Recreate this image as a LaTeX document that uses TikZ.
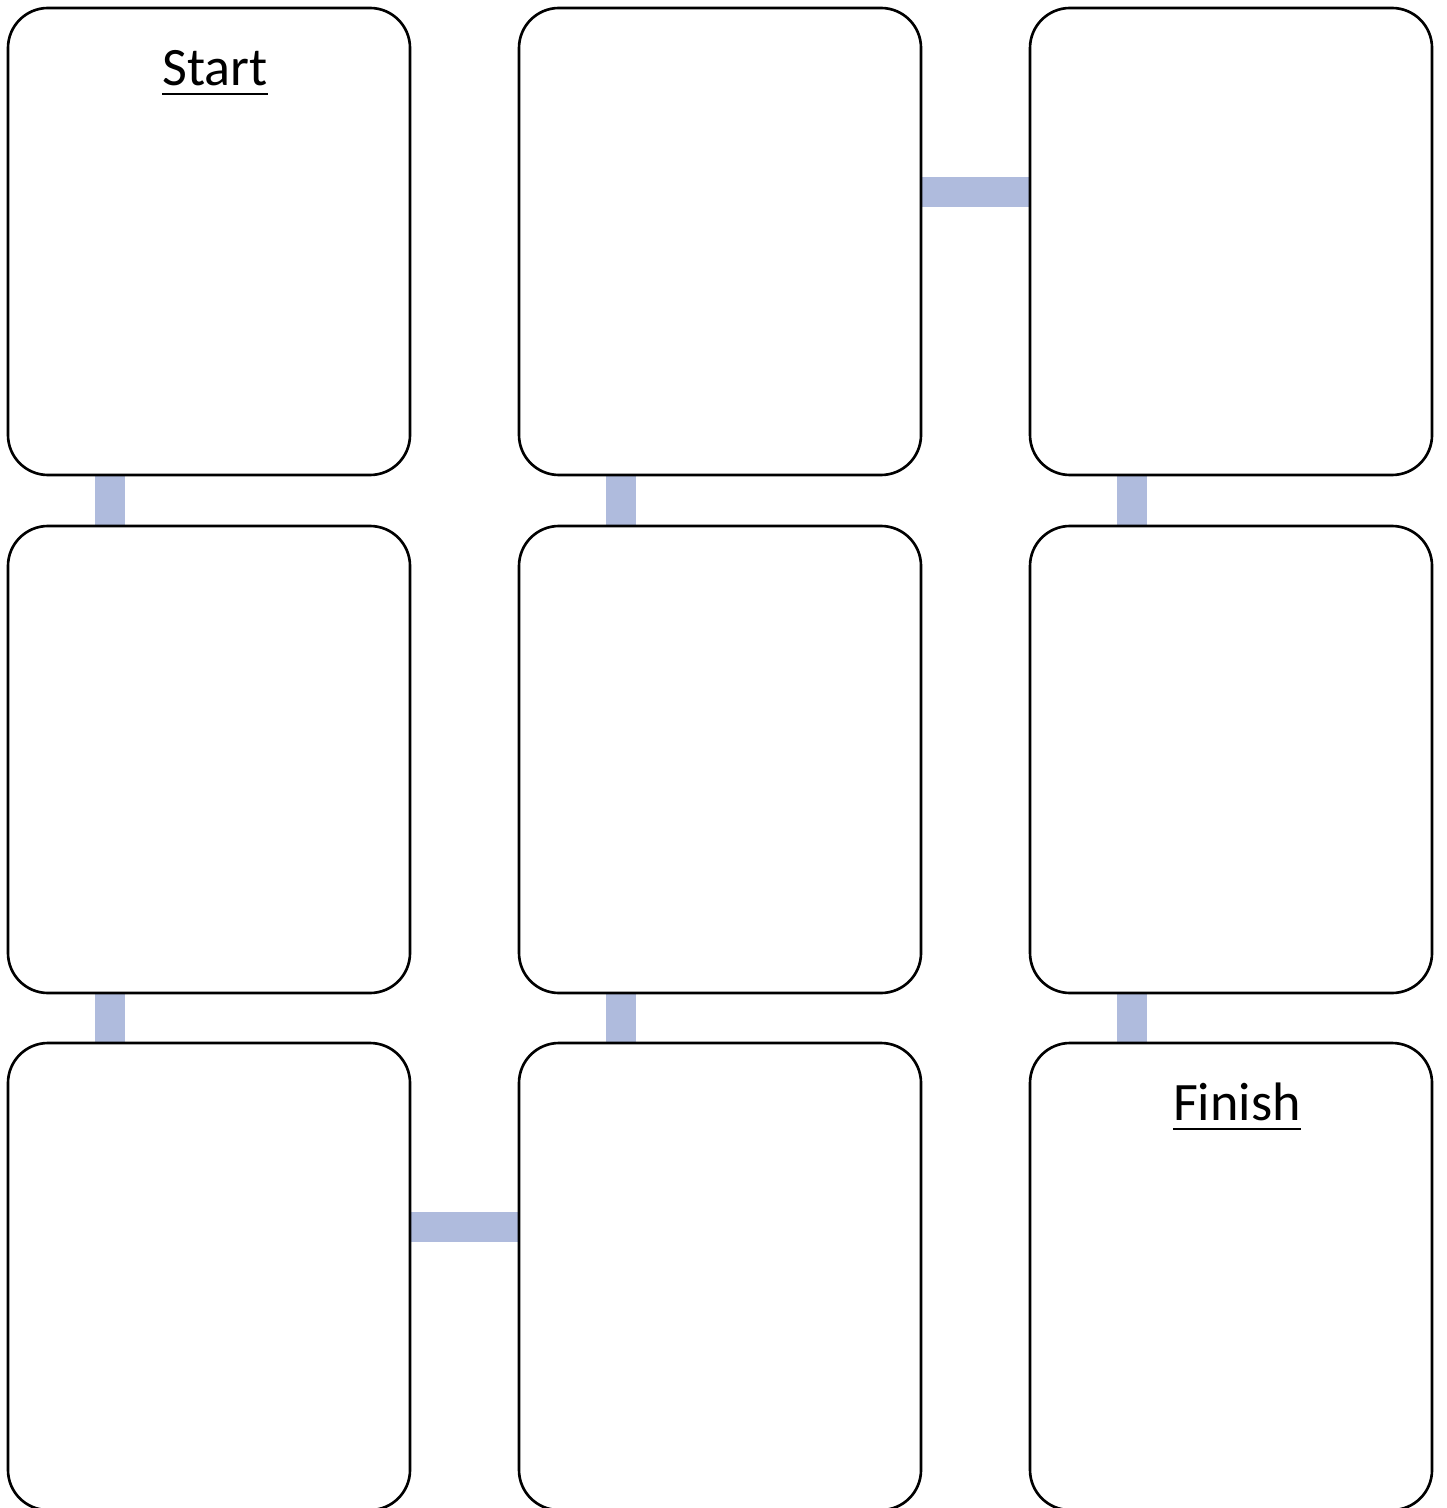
\documentclass[tikz,border=0pt]{standalone}
\usepackage{fontspec}
\setmainfont{Carlito}
\usepackage{xcolor}
\usetikzlibrary{positioning,backgrounds}
\definecolor{linkblue}{RGB}{175,187,221}
\newcommand{\ulbar}[1]{\vtop{\hbox{#1}\kern1.9pt\hrule height0.75pt}}
\tikzset{
  room/.style={draw=black, line width=0.75pt, fill=white, rounded corners=0.4cm,
               minimum width=4.02cm, minimum height=4.67cm, inner sep=0pt},
  link/.style={draw=linkblue, line width=0.3cm},
  heading/.style={anchor=base, inner sep=0pt, font=\fontsize{15.4}{18}\selectfont}
}
\begin{document}
\begin{tikzpicture}
    \useasboundingbox (0,0) rectangle (14.46,-15.08);

    % grid of rooms
    \foreach \c/\x in {1/2.09, 2/7.20, 3/12.31}
        \foreach \r/\y in {1/-2.415, 2/-7.595, 3/-12.765}
            \node[room] (b\r\c) at (\x,\y) {};

    \node[heading] (start) at ([xshift=0.06cm, yshift=-0.79cm]b11.north) {\ulbar{Start}};
    \node[heading] (finish) at ([xshift=0.06cm, yshift=-0.79cm]b33.north) {\ulbar{Finish}};

    % corridors
    \begin{scope}[on background layer]
        \draw[link] ([xshift=1.03cm]b11.south west) -- ([xshift=1.03cm]b21.north west);
        \draw[link] ([xshift=1.03cm]b21.south west) -- ([xshift=1.03cm]b31.north west);
        \draw[link] ([yshift=-1.85cm]b31.north east) -- ([yshift=-1.85cm]b32.north west);
        \draw[link] ([xshift=1.03cm]b32.north west) -- ([xshift=1.03cm]b22.south west);
        \draw[link] ([xshift=1.03cm]b22.north west) -- ([xshift=1.03cm]b12.south west);
        \draw[link] ([yshift=-1.85cm]b12.north east) -- ([yshift=-1.85cm]b13.north west);
        \draw[link] ([xshift=1.03cm]b13.south west) -- ([xshift=1.03cm]b23.north west);
        \draw[link] ([xshift=1.03cm]b23.south west) -- ([xshift=1.03cm]b33.north west);
    \end{scope}
\end{tikzpicture}
\end{document}
